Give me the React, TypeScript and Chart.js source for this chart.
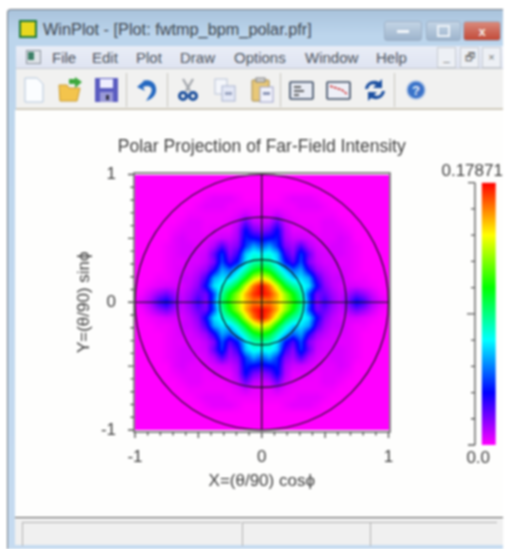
import React, { useEffect, useRef } from "react";
import { Chart, registerables } from "chart.js";

Chart.register(...registerables);

const chartTitle = "Polar Projection of Far-Field Intensity";
const xAxisTitle = "X=(θ/90) cosϕ";
const yAxisTitle = "Y=(θ/90) sinϕ";
const peakIntensity = 0.17871;
const axisLabels = [-1, 0, 1];
const ringRadii = [1 / 3, 2 / 3, 1];
const menuItems: [string, number][] = [["File", 52], ["Edit", 92], ["Plot", 136], ["Draw", 180], ["Options", 234], ["Window", 305], ["Help", 376]];

// Fractions of the peak, upper-right quadrant: row = steps up from centre, column = steps right (1 step = 1/16 axis unit).
const quadrantLevels = [
  [.88, .90, .84, .74, .63, .52, .28, .09, .16, .09, .05, .11, .20, .15, .07, .03, .01],
  [1.0, .96, .86, .72, .60, .47, .26, .11, .12, .07, .04, .07, .11, .08, .04, .01, 0],
  [1.0, .91, .76, .58, .48, .42, .38, .20, .09, .05, .03, .03, .03, .02, .01, 0, 0],
  [.80, .74, .58, .45, .36, .38, .33, .15, .07, .04, .04, .02, .01, .01, 0, 0, 0],
  [.62, .57, .46, .36, .28, .33, .18, .08, .05, .03, .03, .02, .01, 0, 0, 0, 0],
  [.48, .46, .38, .22, .14, .26, .10, .05, .03, .03, .02, .02, .01, 0, 0, 0, 0],
  [.40, .42, .36, .16, .09, .24, .12, .04, .03, .03, .03, .02, .01, 0, 0, 0, 0],
  [.27, .33, .24, .10, .07, .14, .06, .03, .02, .03, .03, .02, .01, 0, 0, 0, 0],
  [.18, .20, .22, .07, .04, .04, .03, .02, .02, .02, .03, .02, 0, 0, 0, 0, 0],
  [.09, .11, .20, .06, .02, .02, .02, .01, .02, .02, .02, .01, 0, 0, 0, 0, 0],
  [.04, .05, .12, .04, .02, .01, .01, .01, .02, .02, .01, 0, 0, 0, 0, 0, 0],
  [.02, .02, .04, .02, .01, .01, .01, .01, .01, .01, 0, 0, 0, 0, 0, 0, 0],
  [.01, .01, .01, .01, .01, .02, .02, .02, .01, 0, 0, 0, 0, 0, 0, 0, 0],
  [0, 0, 0, .01, .02, .02, .02, .01, 0, 0, 0, 0, 0, 0, 0, 0, 0],
  [0, 0, 0, 0, 0, 0, 0, 0, 0, 0, 0, 0, 0, 0, 0, 0, 0],
  [0, 0, 0, 0, 0, 0, 0, 0, 0, 0, 0, 0, 0, 0, 0, 0, 0],
  [0, 0, 0, 0, 0, 0, 0, 0, 0, 0, 0, 0, 0, 0, 0, 0, 0],
];

const colourStops = [
  [255, 0, 255],
  [0, 0, 255],
  [0, 255, 255],
  [0, 255, 0],
  [255, 255, 0],
  [255, 0, 0],
];

const FONT = '"Liberation Sans", Arial, sans-serif';
const INK = "#3c3c3c";
const N = quadrantLevels.length - 1;

function level(ix: number, iy: number) {
  return quadrantLevels[Math.abs(iy)][Math.abs(ix)];
}

function colourFor(f: number) {
  const p = Math.max(0, Math.min(0.9999, f)) * (colourStops.length - 1);
  const i = Math.floor(p);
  const t = p - i;
  return colourStops[i].map((c, k) => c + (colourStops[i + 1][k] - c) * t);
}

const cells: { x: number; y: number; v: number }[] = [];
for (let iy = -N; iy <= N; iy++) {
  for (let ix = -N; ix <= N; ix++) {
    cells.push({ x: ix / N, y: iy / N, v: level(ix, iy) * peakIntensity });
  }
}

const heatPlugin = {
  id: "heat",
  beforeDatasetsDraw(chart: any) {
    const { ctx, chartArea: a, scales } = chart;
    const w = Math.round(a.right - a.left);
    const h = Math.round(a.bottom - a.top);
    const off = document.createElement("canvas");
    off.width = w;
    off.height = h;
    const oc = off.getContext("2d")!;
    const img = oc.createImageData(w, h);
    const data = chart.data.datasets[0].data as { v: number }[];
    const side = 2 * N + 1;
    for (let py = 0; py < h; py++) {
      const vy = (scales.y.getValueForPixel(a.top + py + 0.5) + 1) * N;
      const y0 = Math.max(0, Math.min(side - 2, Math.floor(vy)));
      const ty = vy - y0;
      for (let px = 0; px < w; px++) {
        const vx = (scales.x.getValueForPixel(a.left + px + 0.5) + 1) * N;
        const x0 = Math.max(0, Math.min(side - 2, Math.floor(vx)));
        const tx = vx - x0;
        const at = (yy: number, xx: number) => data[yy * side + xx].v;
        const v =
          (at(y0, x0) * (1 - tx) + at(y0, x0 + 1) * tx) * (1 - ty) +
          (at(y0 + 1, x0) * (1 - tx) + at(y0 + 1, x0 + 1) * tx) * ty;
        const c = colourFor(v / peakIntensity);
        const o = (py * w + px) * 4;
        img.data[o] = c[0];
        img.data[o + 1] = c[1];
        img.data[o + 2] = c[2];
        img.data[o + 3] = 255;
      }
    }
    oc.putImageData(img, 0, 0);
    ctx.drawImage(off, a.left, a.top, a.right - a.left, a.bottom - a.top);
  },
  afterDatasetsDraw(chart: any) {
    const { ctx, chartArea: a, scales } = chart;
    const cx = scales.x.getPixelForValue(0);
    const cy = scales.y.getPixelForValue(0);
    ctx.save();
    ctx.strokeStyle = "#141414";
    ctx.lineWidth = 1.2;
    for (const r of ringRadii) {
      ctx.beginPath();
      ctx.ellipse(cx, cy, scales.x.getPixelForValue(r) - cx, cy - scales.y.getPixelForValue(r), 0, 0, Math.PI * 2);
      ctx.stroke();
    }
    ctx.beginPath();
    ctx.moveTo(a.left, cy);
    ctx.lineTo(a.right, cy);
    ctx.moveTo(cx, a.top);
    ctx.lineTo(cx, a.bottom);
    ctx.stroke();
    // frame and outward ticks
    const fx0 = a.left - 1;
    const fx1 = a.right + 1.5;
    const fy0 = a.top - 1.5;
    const fy1 = a.bottom + 2;
    ctx.strokeStyle = "#555";
    ctx.lineWidth = 1.4;
    ctx.strokeRect(fx0, fy0, fx1 - fx0, fy1 - fy0);
    for (let i = 0; i <= 20; i++) {
      const t = -1 + i / 10;
      const major = i % 10 === 0;
      const mid = i % 5 === 0;
      const len = major ? 6 : mid ? 6 : 3.5;
      const px = scales.x.getPixelForValue(t);
      const py = scales.y.getPixelForValue(t);
      ctx.beginPath();
      ctx.moveTo(px, fy1);
      ctx.lineTo(px, fy1 + len);
      ctx.moveTo(fx0, py);
      ctx.lineTo(fx0 - len, py);
      ctx.stroke();
    }
    // chart title, centred over the x origin
    ctx.fillStyle = INK;
    ctx.font = `17.5px ${FONT}`;
    ctx.textAlign = "center";
    ctx.textBaseline = "middle";
    ctx.fillText(chartTitle, cx, 147);
    ctx.restore();
  },
};

const barPlugin = {
  id: "barAxis",
  afterDatasetsDraw(chart: any) {
    const { ctx, chartArea: a, scales } = chart;
    const y = scales.y;
    const ax = a.left - 6.7;
    ctx.save();
    ctx.strokeStyle = "#555";
    ctx.lineWidth = 1.3;
    ctx.beginPath();
    ctx.moveTo(ax, y.getPixelForValue(0));
    ctx.lineTo(ax, y.getPixelForValue(peakIntensity));
    for (let i = 0; i <= 10; i++) {
      const p = y.getPixelForValue((peakIntensity * i) / 10);
      const len = i === 5 ? 8 : i === 0 || i === 10 ? 7 : 4;
      ctx.moveTo(ax, p);
      ctx.lineTo(ax - len, p);
    }
    ctx.stroke();
    ctx.fillStyle = INK;
    ctx.font = `17px ${FONT}`;
    ctx.textAlign = "center";
    ctx.textBaseline = "middle";
    ctx.fillText(String(peakIntensity), a.left - 9.5, y.getPixelForValue(peakIntensity) - 11.5);
    ctx.fillText("0.0", a.left - 3.5, y.getPixelForValue(0) + 13);
    ctx.restore();
  },
};

const Btn = ({ left, width, bg, children }: any) => (
  <div style={{ position: "absolute", left, top: 21, width, height: 20, borderRadius: 3, background: bg, border: "1px solid #9db0c6", boxSizing: "border-box", display: "flex", alignItems: "center", justifyContent: "center" }}>{children}</div>
);

const Sep = ({ left }: { left: number }) => <div style={{ position: "absolute", left, top: 73, width: 1, height: 34, background: "#c6c4bc" }} />;

const Icon = ({ left, children }: any) => (
  <svg style={{ position: "absolute", left: left - 13, top: 77 }} width={26} height={26} viewBox="0 0 26 26">{children}</svg>
);

const Panel = ({ left, width }: { left: number; width: number }) => (
  <div style={{ position: "absolute", left, top: 522, width, height: 24, borderTop: "1px solid #b0b0b0", borderLeft: "1px solid #b0b0b0", boxSizing: "border-box" }} />
);

export default function App() {
  const mainRef = useRef<HTMLCanvasElement>(null);
  const barRef = useRef<HTMLCanvasElement>(null);

  useEffect(() => {
    const main = new Chart(mainRef.current!, {
      type: "scatter",
      data: { datasets: [{ label: "Far-field intensity", data: cells, pointRadius: 0, pointHitRadius: 0 }] },
      plugins: [heatPlugin],
      options: {
        animation: false,
        responsive: false,
        devicePixelRatio: 1,
        layout: { padding: { left: 74, right: 506 - 388.5, top: 174.5, bottom: 549 - 430 - 62 } },
        plugins: {
          legend: { display: false },
          tooltip: { enabled: false },
          title: { display: false },
        },
        scales: {
          x: {
            type: "linear",
            min: -1,
            max: 1,
            afterFit: (s: any) => { s.height = 62; },
            afterBuildTicks: (s: any) => { s.ticks = axisLabels.map((value) => ({ value })); },
            grid: { display: false, drawTicks: false },
            border: { display: false },
            ticks: { color: INK, padding: 17, maxRotation: 0, font: { family: FONT, size: 17 } },
            title: { display: true, text: xAxisTitle, color: INK, padding: { top: 0, bottom: 0 }, font: { family: FONT, size: 17, lineHeight: 1.2 } },
          },
          y: {
            type: "linear",
            min: -1,
            max: 1,
            afterFit: (s: any) => { s.width = 61; },
            afterBuildTicks: (s: any) => { s.ticks = axisLabels.map((value) => ({ value })); },
            grid: { display: false, drawTicks: false },
            border: { display: false },
            ticks: { color: INK, padding: 19, font: { family: FONT, size: 17 } },
            title: { display: true, text: yAxisTitle, color: INK, padding: 0, font: { family: FONT, size: 17, lineHeight: 1.2 } },
          },
        },
      },
    });

    const bar = new Chart(barRef.current!, {
      type: "bar",
      data: {
        labels: ["scale"],
        datasets: [{
          label: "Intensity",
          data: [[0, peakIntensity]],
          barPercentage: 1,
          categoryPercentage: 1,
          backgroundColor: (c: any) => {
            const a = c.chart.chartArea;
            if (!a) return "#f0f";
            const g = c.chart.ctx.createLinearGradient(0, a.bottom, 0, a.top);
            colourStops.forEach((s, i) => g.addColorStop(i / (colourStops.length - 1), `rgb(${s.join(",")})`));
            return g;
          },
        }],
      },
      plugins: [barPlugin],
      options: {
        animation: false,
        responsive: false,
        devicePixelRatio: 1,
        layout: { padding: { left: 45.7, right: 10.3, top: 32.7, bottom: 25 } },
        plugins: { legend: { display: false }, tooltip: { enabled: false } },
        scales: {
          x: { display: false },
          y: { display: false, min: 0, max: peakIntensity },
        },
      },
    });

    return () => {
      main.destroy();
      bar.destroy();
    };
  }, []);

  return (
    <div style={{ position: "fixed", left: 0, top: 0, width: 506, height: 549, background: "#fff", overflow: "hidden", filter: "blur(0.8px)", fontFamily: FONT }}>
      {/* window frame */}
      <div style={{ position: "absolute", left: 7, top: 9, width: 496, height: 540, background: "linear-gradient(#a9c3dc, #bcd5ec 25px, #c6dbf0)", borderLeft: "1.5px solid #6e7680", borderTop: "1.5px solid #6e7680", boxSizing: "border-box", borderTopLeftRadius: 4 }} />
      {/* title bar */}
      <div style={{ position: "absolute", left: 19, top: 20, width: 18, height: 18, background: "#1f7a3a", padding: 2, boxSizing: "border-box" }}>
        <div style={{ width: "100%", height: "100%", background: "#e8d820" }} />
      </div>
      <div style={{ position: "absolute", left: 43, top: 20, fontSize: 16.3, color: "#3d4650", whiteSpace: "nowrap" }}>WinPlot - [Plot: fwtmp_bpm_polar.pfr]</div>
      <Btn left={384} width={38} bg="linear-gradient(#c4d5e6,#9db4cc)"><div style={{ width: 12, height: 3, background: "#f2f6fa" }} /></Btn>
      <Btn left={426} width={35} bg="linear-gradient(#c4d5e6,#9db4cc)"><div style={{ width: 9, height: 8, border: "2px solid #eef3f8" }} /></Btn>
      <Btn left={463} width={38} bg="linear-gradient(#d98a7c,#c24a38)"><span style={{ color: "#f4efe9", fontSize: 13, fontWeight: 700 }}>x</span></Btn>
      {/* menu bar */}
      <div style={{ position: "absolute", left: 16, top: 46, width: 487, height: 23, background: "linear-gradient(#e9edf6,#dfe4f2)", borderBottom: "1px solid #c5c9d0", boxSizing: "border-box" }} />
      <div style={{ position: "absolute", left: 26, top: 50, width: 15, height: 14, background: "#dfe3e8", border: "1px solid #8a929c", boxSizing: "border-box" }}>
        <div style={{ width: 6, height: 8, margin: 1, background: "#3c7f66" }} />
      </div>
      {menuItems.map(([t, x]) => (
        <div key={t} style={{ position: "absolute", left: x, top: 49, fontSize: 15, color: "#4a525c" }}>{t}</div>
      ))}
      {[["_", 437], ["🗗", 460], ["×", 482]].map(([t, x]) => (
        <div key={String(x)} style={{ position: "absolute", left: Number(x), top: 47, width: 19, height: 21, border: "1px solid #c6cad0", boxSizing: "border-box", textAlign: "center", fontSize: 11, color: "#707070", lineHeight: "19px", background: "#edf0f5" }}>{t}</div>
      ))}
      {/* toolbar */}
      <div style={{ position: "absolute", left: 16, top: 69, width: 487, height: 41, background: "#f1f1f0", borderBottom: "2px solid #cfc9bb", boxSizing: "border-box" }} />
      <Sep left={126} /><Sep left={167} /><Sep left={280} /><Sep left={394} />
      <Icon left={34}><path d="M4 1h12l6 6v18H4z" fill="#fbfdff" stroke="#b4c6da" /></Icon>
      <Icon left={70}>
        <path d="M2 8h8l2 3h11l-3 13H3z" fill="#f3c44c" stroke="#c89a30" />
        <path d="M12 2h6V0l7 5-7 6V7h-6z" fill="#3ca83c" />
      </Icon>
      <Icon left={106}>
        <rect x="2" y="1" width="23" height="24" fill="#5a5cc0" />
        <rect x="7" y="2" width="13" height="9" fill="#eef" />
        <rect x="7" y="15" width="13" height="10" fill="#9a9ad8" />
        <rect x="13" y="18" width="3" height="5" fill="#334" />
      </Icon>
      <Icon left={147}><path d="M10 4 3 10l8 4-2-4c8-3 10 2 8 6l-5 8c7-2 11-7 10-13-1-7-8-9-14-7z" fill="#2468c0" /></Icon>
      <Icon left={188}>
        <path d="M8 2 L15 14 M18 2 L11 14" stroke="#a0a4aa" strokeWidth="2.2" />
        <circle cx="8" cy="19" r="3.5" fill="none" stroke="#1c4f9c" strokeWidth="3" />
        <circle cx="18" cy="19" r="3.5" fill="none" stroke="#1c4f9c" strokeWidth="3" />
      </Icon>
      <Icon left={225}>
        <rect x="3" y="2" width="12" height="15" fill="#f4f6fb" stroke="#b8c2d6" />
        <rect x="10" y="9" width="13" height="15" fill="#e4e8f6" stroke="#a8b2ce" />
        <rect x="13" y="15" width="7" height="3" fill="#9aa4c0" />
      </Icon>
      <Icon left={262}>
        <rect x="3" y="3" width="17" height="21" rx="1" fill="#e8c878" stroke="#a08850" />
        <rect x="7" y="1" width="9" height="4" fill="#d0d0d0" stroke="#808080" />
        <rect x="11" y="10" width="13" height="15" fill="#f1f2fb" stroke="#9aa0c8" />
        <rect x="14" y="15" width="7" height="3" fill="#8a94b4" />
      </Icon>
      <Icon left={301}>
        <rect x="2" y="5" width="23" height="17" rx="1" fill="#e8ecf4" stroke="#384860" strokeWidth="1.6" />
        <path d="M6 10h7M6 14h10M6 18h5" stroke="#333" strokeWidth="1.4" />
      </Icon>
      <Icon left={338}>
        <rect x="2" y="5" width="23" height="17" rx="1" fill="#eef0f8" stroke="#384860" strokeWidth="1.6" />
        <path d="M5 9l6 2 6 2 5 4" fill="none" stroke="#d03030" strokeWidth="1.5" strokeDasharray="3 1" />
      </Icon>
      <Icon left={375}>
        <path d="M3 12C4 5 11 2 17 5l3-3v9h-9l3-3C10 6 7 8 6 12z" fill="#1c50a0" />
        <path d="M23 14c-1 7-8 10-14 7l-3 3v-9h9l-3 3c4 2 7 0 8-4z" fill="#1c50a0" />
      </Icon>
      <Icon left={416}>
        <circle cx="13" cy="13" r="9" fill="#3a72c8" stroke="#a8c0e4" strokeWidth="1.5" />
        <text x="13" y="18" textAnchor="middle" fontSize="13" fontWeight="700" fill="#eef3fb" fontFamily="Liberation Sans">?</text>
      </Icon>
      {/* client area */}
      <div style={{ position: "absolute", left: 15, top: 110, width: 488, height: 407, background: "#fefefd" }} />
      {/* status bar */}
      <div style={{ position: "absolute", left: 15, top: 517, width: 488, height: 28, background: "#f0f0f0", borderTop: "1.5px solid #555", boxSizing: "border-box" }} />
      <Panel left={22} width={219} /><Panel left={242} width={128} /><Panel left={370} width={127} />
      {/* chart */}
      <canvas ref={mainRef} width={506} height={549} style={{ position: "absolute", left: 0, top: 0 }} />
      <canvas ref={barRef} width={70} height={320} style={{ position: "absolute", left: 436, top: 150 }} />
    </div>
  );
}
